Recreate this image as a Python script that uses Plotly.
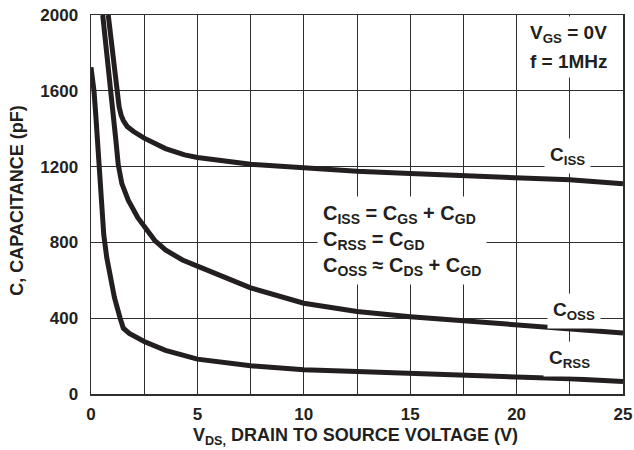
import plotly.graph_objects as go

# ---- data ----
vds_ciss = [0.81, 0.95, 1.08, 1.2, 1.32, 1.42, 1.52, 1.7, 2.0, 2.5, 3.5, 4.4, 5, 7.5, 10, 12.5, 15, 17.5, 20, 22.5, 25]
ciss = [2000, 1860, 1730, 1600, 1515, 1470, 1443, 1412, 1385, 1350, 1295, 1262, 1248, 1212, 1192, 1175, 1163, 1152, 1142, 1130, 1110]

vds_coss = [0.55, 0.75, 0.95, 1.07, 1.17, 1.28, 1.45, 1.75, 2.2, 2.7, 3.0, 3.5, 4.3, 5, 7.5, 10, 12.5, 15, 17.5, 20, 22.5, 25]
coss = [2000, 1800, 1600, 1470, 1338, 1210, 1110, 1023, 930, 855, 810, 760, 707, 675, 560, 479, 435, 408, 386, 366, 347, 322]

vds_crss = [0, 0.07, 0.14, 0.22, 0.31, 0.39, 0.5, 0.6, 0.74, 0.85, 1.1, 1.37, 1.52, 1.8, 2.5, 3.5, 5, 7.5, 10, 12.5, 15, 17.5, 20, 22.5, 25]
crss = [1724, 1680, 1600, 1480, 1338, 1200, 1010, 840, 720, 654, 510, 400, 347, 320, 277, 230, 184, 149, 128, 119, 110, 101, 93, 80, 66]

x_tickvals = [0, 5, 10, 15, 20, 25]
x_ticktext = ["0", "5", "10", "15", "20", "25"]
y_tickvals = [0, 400, 800, 1200, 1600, 2000]
y_ticktext = ["0", "400", "800", "1200", "1600", "2000"]

x_title = "<b>V<sub>DS,</sub> DRAIN TO SOURCE VOLTAGE (V)</b>"
y_title = "<b>C, CAPACITANCE (pF)</b>"

FONT = "Liberation Sans, Arial, sans-serif"
INK = "#231f20"
GRID = "#2e2e2e"

fig = go.Figure()
for xs, ys, name in [(vds_ciss, ciss, "C_ISS"), (vds_coss, coss, "C_OSS"), (vds_crss, crss, "C_RSS")]:
    fig.add_trace(go.Scatter(x=xs, y=ys, mode="lines", name=name,
                             line=dict(color=INK, width=5), showlegend=False, hoverinfo="skip"))

ann_font = dict(family=FONT, size=19, color=INK)
annotations = [
    dict(x=20.33, y=1900, text="<b>V<sub>GS</sub> = 0V</b>", xanchor="left", yanchor="middle"),
    dict(x=20.33, y=1757, text="<b>f = 1MHz</b>", xanchor="left", yanchor="middle"),
    dict(x=22.4, y=1255, text="<b>C<sub>ISS</sub></b>", xanchor="center", yanchor="middle"),
    dict(x=22.7, y=437, text="<b>C<sub>OSS</sub></b>", xanchor="center", yanchor="middle"),
    dict(x=22.5, y=183, text="<b>C<sub>RSS</sub></b>", xanchor="center", yanchor="middle"),
]
for a in annotations:
    a.update(xref="x", yref="y", showarrow=False, font=ann_font, bgcolor="white", borderpad=5)

annotations.append(dict(x=10.62, y=810, xref="x", yref="y", showarrow=False,
                        text="<b>C<sub>ISS</sub> = C<sub>GS</sub> + C<sub>GD</sub><br>"
                             "C<sub>RSS</sub> = C<sub>GD</sub><br>"
                             "C<sub>OSS</sub> ≈ C<sub>DS</sub> + C<sub>GD</sub></b>",
                        xanchor="left", yanchor="middle", align="left",
                        font=dict(family=FONT, size=20, color=INK), bgcolor="white", borderpad=5))

# axis titles as paper-anchored texts
annotations.append(dict(x=0.498, y=-0.111, xref="paper", yref="paper", text=x_title,
                        showarrow=False, xanchor="center", yanchor="middle",
                        font=dict(family=FONT, size=18, color=INK)))
annotations.append(dict(x=-0.138, y=0.509, xref="paper", yref="paper", text=y_title,
                        showarrow=False, xanchor="center", yanchor="middle", textangle=-90,
                        font=dict(family=FONT, size=18, color=INK)))

fig.update_layout(
    width=634, height=450,
    margin=dict(l=91, r=11, t=15, b=56, autoexpand=False),
    paper_bgcolor="white", plot_bgcolor="white",
    font=dict(family=FONT, color=INK),
    annotations=annotations,
    hovermode=False,
    xaxis=dict(
        range=[0, 25], tickvals=x_tickvals, ticktext=["<b>%s</b>" % t for t in x_ticktext],
        tickfont=dict(family=FONT, size=17, color=INK),
        showgrid=True, gridcolor=GRID, gridwidth=1,
        minor=dict(dtick=2.5, showgrid=True, gridcolor=GRID, gridwidth=1),
        showline=True, linecolor=GRID, linewidth=1.5, mirror=True,
        zeroline=False, ticks="", ticklabelstandoff=4, automargin=False,
    ),
    yaxis=dict(
        range=[0, 2000], tickvals=y_tickvals, ticktext=["<b>%s</b>" % t for t in y_ticktext],
        tickfont=dict(family=FONT, size=17, color=INK),
        showgrid=True, gridcolor=GRID, gridwidth=1,
        showline=True, linecolor=GRID, linewidth=1.5, mirror=True,
        zeroline=False, ticks="", ticklabelstandoff=8, automargin=False,
    ),
)

fig.write_html("out.html", config={"displayModeBar": False, "staticPlot": True},
               post_script="document.body.style.margin='0';document.body.style.padding='0';")
